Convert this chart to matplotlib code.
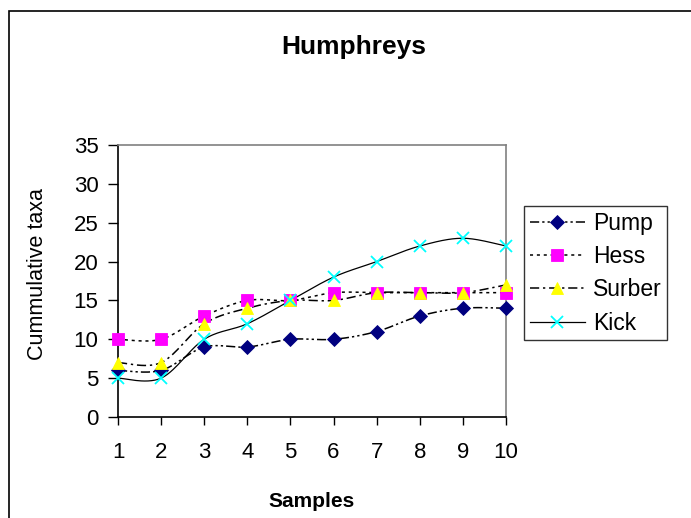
import numpy as np
import matplotlib.pyplot as plt
from matplotlib.lines import Line2D
from matplotlib.patches import Rectangle

plt.rcParams['font.family'] = ['Liberation Sans', 'DejaVu Sans']

samples = [1, 2, 3, 4, 5, 6, 7, 8, 9, 10]
pump = [6, 6, 9, 9, 10, 10, 11, 13, 14, 14]
hess = [10, 10, 13, 15, 15, 16, 16, 16, 16, 16]
surber = [7, 7, 12, 14, 15, 15, 16, 16, 16, 17]
kick = [5, 5, 10, 12, 15, 18, 20, 22, 23, 22]


def smooth(x, y, n=30):
    # excel-like smoothed line: bezier segments through the points
    x = np.asarray(x, float)
    y = np.asarray(y, float)
    pts = np.column_stack([x, y])
    out = []
    for i in range(len(pts) - 1):
        p0 = pts[max(i - 1, 0)]
        p1 = pts[i]
        p2 = pts[i + 1]
        p3 = pts[min(i + 2, len(pts) - 1)]
        c1 = p1 + (p2 - p0) / 6
        c2 = p2 - (p3 - p1) / 6
        t = np.linspace(0, 1, n)[:, None]
        seg = ((1 - t) ** 3 * p1 + 3 * (1 - t) ** 2 * t * c1
               + 3 * (1 - t) * t ** 2 * c2 + t ** 3 * p2)
        out.append(seg if i == 0 else seg[1:])
    out = np.vstack(out)
    return out[:, 0], out[:, 1]


series = [
    ('Pump', pump, (0, (6, 2, 1.5, 2, 1.5, 2)), 'D', '#000080', 7),
    ('Hess', hess, (0, (2, 2.5)), 's', '#FF00FF', 8.5),
    ('Surber', surber, (0, (6, 2.5, 1.5, 2.5)), '^', '#FFFF00', 8.5),
    ('Kick', kick, '-', 'x', '#00FFFF', 8.5),
]

fig = plt.figure(figsize=(6.91, 5.18), dpi=100)
ax = fig.add_axes([118 / 691, 1 - 417 / 518, 388 / 691, 272 / 518])

handles = []
for name, vals, ls, mk, col, ms in series:
    sx, sy = smooth(samples, vals)
    lw = 1.1 if ls != '-' else 0.9
    ax.plot(sx, sy, color='black', lw=lw, linestyle=ls, clip_on=False, zorder=2)
    mew = 1.3 if mk == 'x' else 0.6
    ax.plot(samples, vals, linestyle='none', marker=mk, ms=ms, color=col,
            markeredgecolor=col, markeredgewidth=mew, clip_on=False, zorder=3)
    handles.append(Line2D([0], [0], color='black', lw=lw, linestyle=ls,
                          marker=mk, ms=ms, markerfacecolor=col,
                          markeredgecolor=col, markeredgewidth=mew))

ax.set_xlim(1, 10)
ax.set_ylim(0, 35)
ax.set_xticks(samples)
ax.set_yticks(range(0, 36, 5))
ax.tick_params(axis='x', direction='out', length=6, width=1, pad=12, labelsize=16)
ax.tick_params(axis='y', direction='out', length=7, width=1, pad=7, labelsize=16)
for s in ['left', 'bottom']:
    ax.spines[s].set_color('black')
    ax.spines[s].set_linewidth(1.2)
for s in ['top', 'right']:
    ax.spines[s].set_color('#808080')
    ax.spines[s].set_linewidth(1.2)

fig.text(38 / 691, 1 - 274 / 518, 'Cummulative taxa', fontsize=15.5,
         rotation=90, ha='center', va='center')
fig.text(312 / 691, 1 - 507 / 518, 'Samples', fontsize=15, fontweight='bold',
         ha='center', va='baseline')
fig.text(354 / 691, 1 - 54 / 518, 'Humphreys', fontsize=19, fontweight='bold',
         ha='center', va='baseline')

leg = fig.legend(handles, [s[0] for s in series], loc='upper left',
                 bbox_to_anchor=(524 / 691, 1 - 206 / 518), fontsize=16.5,
                 frameon=True, fancybox=False, handlelength=2.4,
                 borderpad=0.25, labelspacing=0.45, handletextpad=0.35,
                 borderaxespad=0)
leg.get_frame().set_edgecolor('black')
leg.get_frame().set_linewidth(1)

fig.patches.append(Rectangle((9 / 691, -0.1), 1.0, 1.1 - 11 / 518,
                             transform=fig.transFigure, fill=False,
                             edgecolor='black', lw=1.2))

fig.savefig('out.png', dpi=100)
